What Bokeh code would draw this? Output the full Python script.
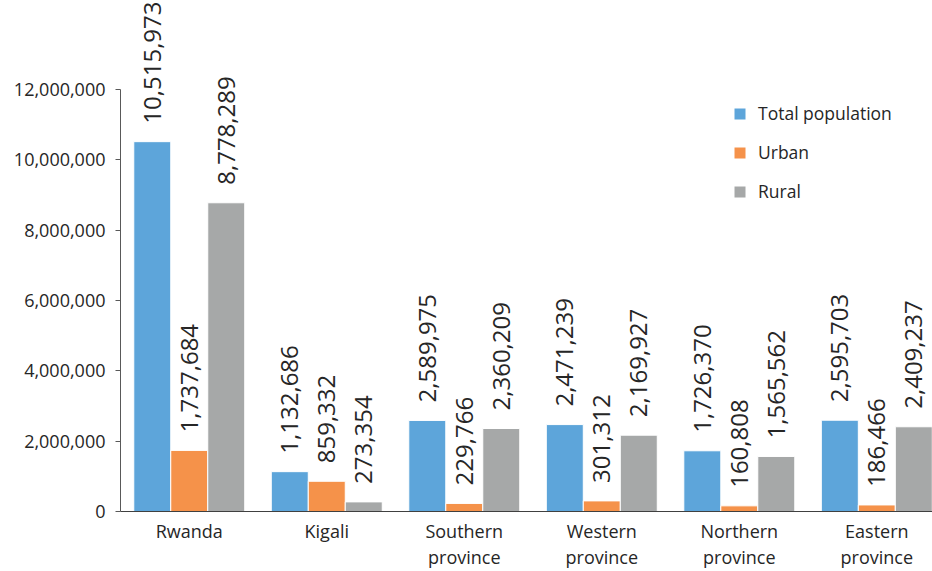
import numpy as np
from bokeh.plotting import figure
from bokeh.models import ColumnDataSource, Range1d, FixedTicker, NumeralTickFormatter, Legend, LegendItem
from bokeh.core.properties import value
from bokeh.embed import file_html
from bokeh.resources import INLINE

regions = ["Rwanda", "Kigali", "Southern\nprovince", "Western\nprovince",
           "Northern\nprovince", "Eastern\nprovince"]
total_population = [10515973, 1132686, 2589975, 2471239, 1726370, 2595703]
urban = [1737684, 859332, 229766, 301312, 160808, 186466]
rural = [8778289, 273354, 2360209, 2169927, 1565562, 2409237]
series_names = ["Total population", "Urban", "Rural"]
series_colors = ["#5DA5DA", "#F5924A", "#A6A8A8"]
y_ticks = [0, 2000000, 4000000, 6000000, 8000000, 10000000, 12000000]

FONT = "Open Sans"
TXT = "#262626"

p = figure(width=932, height=571, output_backend="svg", toolbar_location=None,
           x_range=Range1d(0, 5.905), y_range=Range1d(0, 14.53e6),
           min_border_left=120, min_border_right=0, min_border_top=0, min_border_bottom=60)
p.outline_line_color = None
p.xgrid.visible = False
p.ygrid.visible = False

bar_w = 0.269
centers = np.arange(len(regions)) + 0.5
offsets = [-bar_w, 0.0, bar_w]
series = [total_population, urban, rural]

renderers = []
for vals, off, col in zip(series, offsets, series_colors):
    src = ColumnDataSource(dict(x=centers + off, top=vals,
                                lab=[f"{v:,}" for v in vals]))
    r = p.vbar(x="x", top="top", width=bar_w, source=src, fill_color=col,
               line_color="white", line_width=1)
    renderers.append(r)
    p.text(x="x", y="top", text="lab", source=src, angle=np.pi / 2,
           text_align="left", text_baseline="middle", y_offset=-18,
           text_font=value(FONT), text_font_size="24px", text_color=TXT)

# axes
xa = p.xaxis[0]
xa.ticker = FixedTicker(ticks=list(centers))
xa.major_label_overrides = {float(c): r for c, r in zip(centers, regions)}
xa.major_tick_line_color = None
xa.major_tick_out = 0
xa.major_tick_in = 0
xa.minor_tick_line_color = None
xa.minor_tick_out = 0
xa.minor_tick_in = 0
xa.axis_line_color = "#404040"
xa.axis_line_width = 1.2
xa.major_label_text_font = FONT
xa.major_label_text_font_size = "18px"
xa.major_label_text_line_height = 1.1
xa.major_label_text_color = TXT
xa.major_label_standoff = 7

ya = p.yaxis[0]
ya.ticker = FixedTicker(ticks=y_ticks)
ya.formatter = NumeralTickFormatter(format="0,0")
ya.bounds = (0, 12000000)
ya.minor_tick_line_color = None
ya.major_tick_in = 0
ya.major_tick_out = 5
ya.axis_line_color = "#595959"
ya.major_tick_line_color = "#595959"
ya.major_label_text_font = FONT
ya.major_label_text_font_size = "18px"
ya.major_label_text_color = TXT
ya.major_label_standoff = 10

legend = Legend(items=[LegendItem(label=n, renderers=[r]) for n, r in zip(series_names, renderers)],
                location=(612, 308), padding=0, spacing=15, glyph_width=15, glyph_height=15,
                label_height=20, label_standoff=11, label_text_font=FONT,
                label_text_font_size="17.5px", label_text_color=TXT,
                border_line_color=None, background_fill_alpha=0)
p.add_layout(legend)

open("out.html", "w").write(file_html(p, INLINE))
